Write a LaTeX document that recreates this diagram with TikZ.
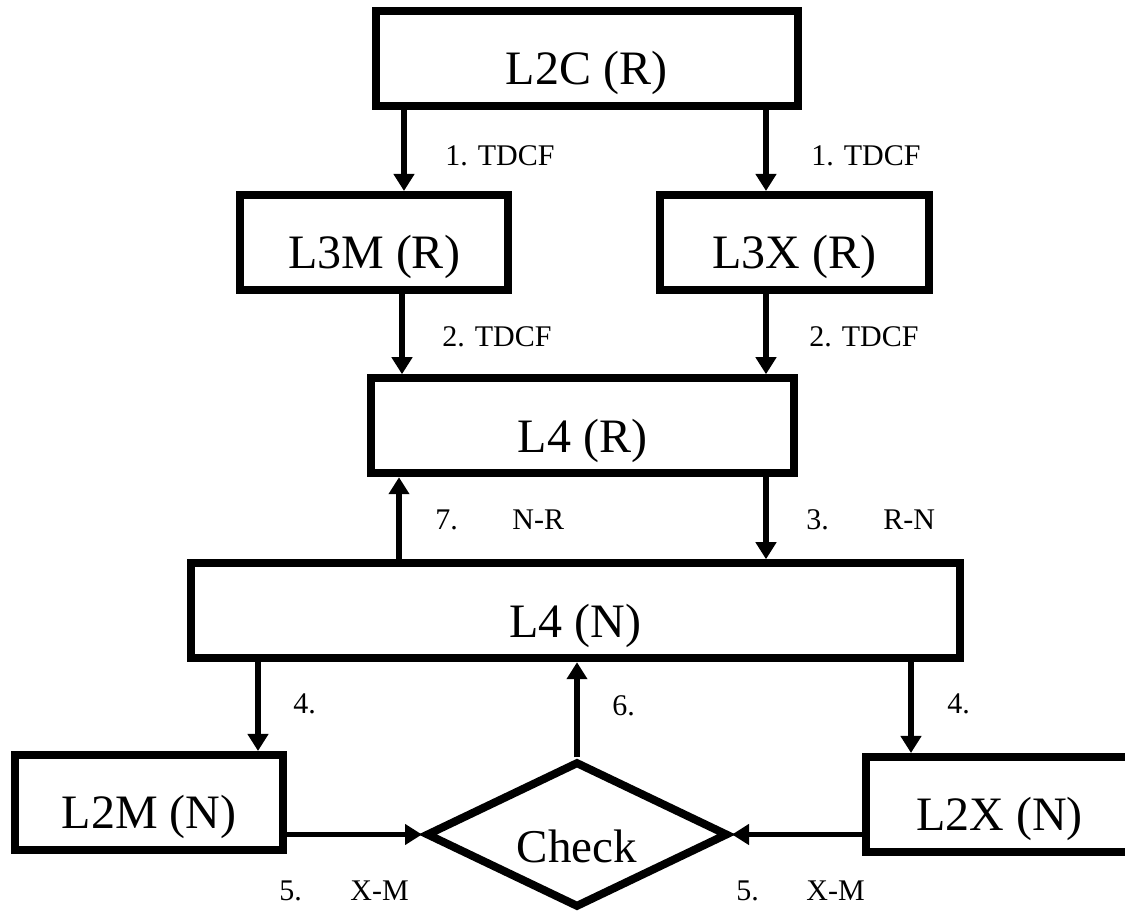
\documentclass[tikz,border=0pt]{standalone}
\usepackage{fontspec}
\setmainfont{Liberation Serif}
\usetikzlibrary{arrows.meta,shapes.geometric}

\begin{document}
\begin{tikzpicture}[x=0.5pt,y=-0.5pt,
  box/.style={draw, line width=4pt, rectangle, inner sep=0pt,
    minimum height=47.5pt, font=\fontsize{24}{28}\selectfont,
    text height=26.5pt, text depth=0pt},
  decision/.style={draw, line width=4pt, diamond, aspect=2, inner sep=0pt,
    minimum width=151pt, minimum height=73pt,
    font=\fontsize{23.5}{28}\selectfont, text height=28.5pt, text depth=0pt},
  flow/.style={line width=2.75pt, -{Triangle[length=8.5pt,width=10pt]}},
  lbl/.style={anchor=base west, inner sep=0pt, font=\fontsize{15}{18}\selectfont}]

\useasboundingbox (0,0) rectangle (1125,913);

% boxes
\node[box, minimum width=211pt]    (l2c) at (586.5,58.5)  {L2C (R)};
\node[box, minimum width=134.25pt] (l3m) at (374,242.5)   {L3M (R)};
\node[box, minimum width=134.5pt]  (l3x) at (794.5,242.5) {L3X (R)};
\node[box, minimum width=211.5pt]  (l4r) at (582.5,425.75) {L4 (R)};
\node[box, minimum width=384.5pt]  (l4n) at (575.5,610.75) {L4 (N)};
\node[box, minimum width=134pt]    (l2m) at (149,802.5)   {L2M (N)};
\node[box, minimum width=134pt]    (l2x) at (999.5,804.5) {L2X (N)};
\node[decision] (chk) at (577,834.5) {Check};

% vertical positions of the connectors
\coordinate (xa) at (404,0);
\coordinate (xb) at (402,0);
\coordinate (xr) at (766,0);
\coordinate (xs) at (399,0);
\coordinate (xl) at (258,0);
\coordinate (xm) at (911,0);

% connectors
\draw[flow] (l2c.south -| xa) -- (l3m.north -| xa);
\draw[flow] (l2c.south -| xr) -- (l3x.north -| xr);
\draw[flow] (l3m.south -| xb) -- (l4r.north -| xb);
\draw[flow] (l3x.south -| xr) -- (l4r.north -| xr);
\draw[flow] (l4r.south -| xr) -- (l4n.north -| xr);
\draw[flow] (l4n.north -| xs) -- (l4r.south -| xs);
\draw[flow] (l4n.south -| xl) -- (l2m.north -| xl);
\draw[flow] (l4n.south -| xm) -- (l2x.north -| xm);
\draw[flow] (chk.north) -- (chk.north |- l4n.south);
\draw[flow] (l2m.east |- chk.west) -- (chk.west);
\draw[flow] (l2x.west |- chk.east) -- (chk.east);

% connector labels
\node[lbl] (t1a) at (445,166) {1. TDCF};
\node[lbl] (t1b) at (811,166) {1. TDCF};
\node[lbl] (t2a) at (442,347) {2. TDCF};
\node[lbl] (t2b) at (809,347) {2. TDCF};
\node[lbl] (t7)  at (435,530) {7.};
\node[lbl] (t7b) at (512,530) {N-R};
\node[lbl] (t3)  at (806,530) {3.};
\node[lbl] (t3b) at (883,530) {R-N};
\node[lbl] (t4a) at (293,714) {4.};
\node[lbl] (t4b) at (947,714) {4.};
\node[lbl] (t6)  at (612,716) {6.};
\node[lbl] (t5a) at (279,901) {5.};
\node[lbl] (t5b) at (350,901) {X-M};
\node[lbl] (t5c) at (736,901) {5.};
\node[lbl] (t5d) at (806,901) {X-M};
\end{tikzpicture}
\end{document}
